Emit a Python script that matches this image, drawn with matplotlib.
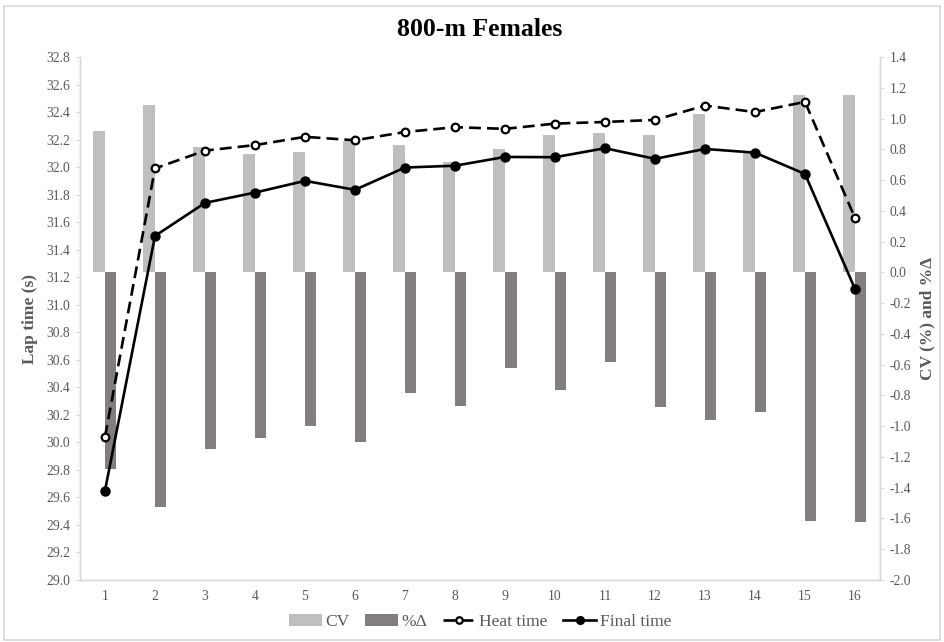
import numpy as np
import matplotlib
matplotlib.use('Agg')
import matplotlib.pyplot as plt
from matplotlib.patches import Rectangle

plt.rcParams['font.family'] = ['Liberation Serif', 'DejaVu Serif']

# данные
laps = np.arange(1, 17)
cv = [0.92, 1.085, 0.815, 0.77, 0.785, 0.855, 0.83, 0.72, 0.80, 0.89, 0.905, 0.89, 1.03, 0.78, 1.156, 1.156]
pct_delta = [-1.28, -1.527, -1.15, -1.08, -0.996, -1.10, -0.786, -0.872, -0.623, -0.764, -0.586, -0.876, -0.963, -0.905, -1.614, -1.622]
heat_time = [30.04, 31.99, 32.12, 32.16, 32.22, 32.195, 32.255, 32.29, 32.278, 32.316, 32.328, 32.343, 32.447, 32.40, 32.474, 31.63]
final_time = [29.65, 31.50, 31.74, 31.815, 31.90, 31.835, 31.997, 32.01, 32.074, 32.072, 32.137, 32.06, 32.132, 32.105, 31.95, 31.115]
left_ticks = np.round(np.arange(29.0, 32.81, 0.2), 1)
right_ticks = np.round(np.arange(-2.0, 1.41, 0.2), 1)

grey_txt = '#595959'
spine_c = '#d9d9d9'


def fmt(v):
    s = f'{v:.1f}'
    return '0.0' if s == '-0.0' else s


fig = plt.figure(figsize=(9.45, 6.42), dpi=100)
ax = fig.add_axes([80/945, 1-580/642, 800/945, 523/642])
ax2 = ax.twinx()

# столбцы на правой оси
w = 0.23
ax2.bar(laps - w/2, cv, width=w, color='#bfbfbf', label='CV')
ax2.bar(laps + w/2, pct_delta, width=w, color='#827e7d', label='%Δ')
ax2.set_ylim(-2.0, 1.4)
ax2.set_yticks(right_ticks)
ax2.set_yticklabels([fmt(v) for v in right_ticks])

# линии на левой оси
ax.plot(laps, heat_time, color='black', lw=1.9, dashes=(4.5, 2.3), marker='o',
        ms=5.5, mfc='white', mec='black', mew=1.6, label='Heat time')
ax.plot(laps, final_time, color='black', lw=1.9, marker='o', ms=6.5,
        mfc='black', mec='black', label='Final time')
ax.set_ylim(29.0, 32.8)
ax.set_yticks(left_ticks)
ax.set_yticklabels([fmt(v) for v in left_ticks])
ax.set_xlim(0.5, 16.5)
ax.set_xticks(laps)

ax.set_zorder(ax2.get_zorder() + 1)
ax.patch.set_visible(False)

for a in (ax, ax2):
    a.spines['top'].set_visible(False)
    for s in ('left', 'right', 'bottom'):
        a.spines[s].set_color(spine_c)
        a.spines[s].set_linewidth(1.0)
    a.tick_params(axis='y', colors=spine_c, labelcolor=grey_txt, labelsize=9.8, length=3, pad=4)
    a.tick_params(axis='x', length=0, labelcolor=grey_txt, labelsize=9.8, pad=7)

ax.set_ylabel('Lap time (s)', fontsize=12.5, fontweight='bold', color=grey_txt, labelpad=6)
ax2.set_ylabel('CV (%) and %Δ', fontsize=12.5, fontweight='bold', color=grey_txt,
               rotation=90, labelpad=6)

fig.text(480/945, 1-30/642, '800-m Females', ha='center', va='center',
         fontsize=18.5, fontweight='bold', color='black')

h1, l1 = ax2.get_legend_handles_labels()
h2, l2 = ax.get_legend_handles_labels()
leg = fig.legend(h1 + h2, l1 + l2, loc='center', bbox_to_anchor=(480/945, 1-622/642),
                 ncol=4, frameon=False, fontsize=12.5, handlelength=1.9,
                 columnspacing=0.9, handletextpad=0.2, markerscale=0.85)
for t in leg.get_texts():
    t.set_color(grey_txt)

# рамка области диаграммы
fig.patches.append(Rectangle((4/945, 2/642), 936/945, 634/642, transform=fig.transFigure,
                             fill=False, edgecolor='#d9d9d9', lw=1.2))

fig.savefig('out.png', dpi=100)
